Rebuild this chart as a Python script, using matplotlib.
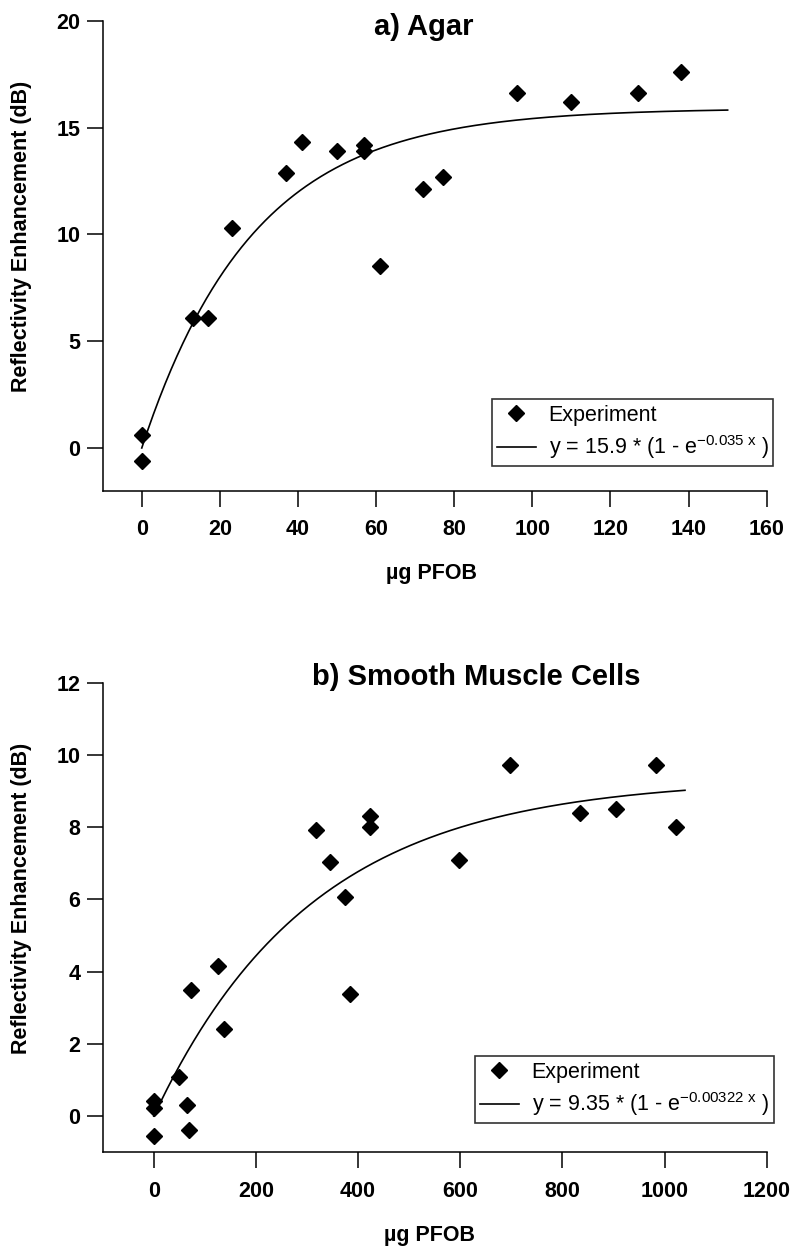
import numpy as np
import matplotlib
matplotlib.use("Agg")
import matplotlib.pyplot as plt

plt.rcParams['font.family'] = ['Liberation Sans', 'DejaVu Sans']
plt.rcParams['mathtext.fontset'] = 'custom'
plt.rcParams['mathtext.rm'] = 'Liberation Sans'
plt.rcParams['mathtext.it'] = 'Liberation Sans'
plt.rcParams['mathtext.default'] = 'rm'

# ---------------- data: a) Agar ----------------
agar_x = [0, 0, 13, 17, 23, 37, 41, 50, 57, 57, 61, 72, 77, 96, 110, 127, 138]
agar_y = [0.6, -0.6, 6.1, 6.1, 10.3, 12.85, 14.3, 13.9, 14.2, 13.9, 8.5, 12.1, 12.7, 16.6, 16.2, 16.6, 17.6]
agar_A = 15.9
agar_k = 0.035
agar_fit_range = (0, 150)
agar_xticks = [0, 20, 40, 60, 80, 100, 120, 140, 160]
agar_yticks = [0, 5, 10, 15, 20]

# ---------------- data: b) Smooth muscle cells ----------------
smc_x = [0, 0, 0, 50, 65, 68, 73, 125, 137, 318, 345, 375, 385, 423, 423, 598, 698, 835, 905, 983, 1022]
smc_y = [0.42, 0.22, -0.55, 1.08, 0.3, -0.38, 3.5, 4.15, 2.4, 7.92, 7.03, 6.08, 3.37, 8.3, 8.0, 7.1, 9.72, 8.38, 8.5, 9.73, 8.0]
smc_A = 9.35
smc_k = 0.00322
smc_fit_range = (0, 1040)
smc_xticks = [0, 200, 400, 600, 800, 1000, 1200]
smc_yticks = [0, 2, 4, 6, 8, 10, 12]

W, H = 800, 1257
fig = plt.figure(figsize=(W / 100, H / 100), dpi=100)


def fx(px):
    return px / W


def fy(py):
    return 1 - py / H


def setup(ax, xlim, ylim, xticks, yticks):
    ax.set_xlim(*xlim)
    ax.set_ylim(*ylim)
    ax.set_xticks(xticks)
    ax.set_yticks(yticks)
    for s in ('top', 'right'):
        ax.spines[s].set_visible(False)
    for s in ('left', 'bottom'):
        ax.spines[s].set_linewidth(1.1)
    ax.tick_params(direction='out', length=11.5, width=1.1, labelsize=15.5)
    ax.tick_params(axis='x', pad=9)
    ax.tick_params(axis='y', pad=4.5)
    for lab in ax.get_xticklabels() + ax.get_yticklabels():
        lab.set_fontweight('bold')


def panel(ax, xs, ys, A, k, rng, label):
    ax.plot(xs, ys, linestyle='none', marker='D', markersize=8.5,
            color='black', label='Experiment', clip_on=False, zorder=3)
    xf = np.linspace(rng[0], rng[1], 400)
    ax.plot(xf, A * (1 - np.exp(-k * xf)), color='black', lw=1.2, label=label)


def add_legend(ax, x0, y0, x1, y1):
    leg = fig.legend(*ax.get_legend_handles_labels(),
                     loc='upper left',
                     bbox_to_anchor=(fx(x0), fy(y1), fx(x1) - fx(x0), fy(y0) - fy(y1)),
                     mode='expand', borderaxespad=0, fontsize=15.5, frameon=True,
                     fancybox=False, edgecolor='black', numpoints=1,
                     handlelength=1.8, handletextpad=0.6, borderpad=0.25,
                     labelspacing=0.35)
    leg.get_frame().set_linewidth(1.2)
    return leg


# ---------- top panel ----------
ax1 = fig.add_axes([fx(102.7), fy(490.7), fx(766.7) - fx(102.7), fy(20.7) - fy(490.7)])
panel(ax1, agar_x, agar_y, agar_A, agar_k, agar_fit_range,
      r'y = 15.9 * (1 - e$^{-0.035\ x}$ )')
setup(ax1, (-10, 160), (-2, 20), agar_xticks, agar_yticks)
add_legend(ax1, 491.7, 399.3, 772.7, 467.7)

fig.text(fx(424), fy(35), 'a) Agar', ha='center', va='baseline',
         fontsize=21, fontweight='bold')
fig.text(fx(21.5), fy(236), 'Reflectivity Enhancement (dB)', rotation=90,
         ha='center', va='center', fontsize=15.5, fontweight='bold')
fig.text(fx(432), fy(574), 'µg PFOB', ha='center', va='center',
         fontsize=15.5, fontweight='bold')

# ---------- bottom panel ----------
ax2 = fig.add_axes([fx(102.7), fy(1152.3), fx(766.7) - fx(102.7), fy(682.7) - fy(1152.3)])
panel(ax2, smc_x, smc_y, smc_A, smc_k, smc_fit_range,
      r'y = 9.35 * (1 - e$^{-0.00322\ x}$ )')
setup(ax2, (-100, 1200), (-1, 12), smc_xticks, smc_yticks)
add_legend(ax2, 474.6, 1056.3, 774, 1126.7)

fig.text(fx(476), fy(685), 'b) Smooth Muscle Cells', ha='center', va='baseline',
         fontsize=21, fontweight='bold')
fig.text(fx(21.5), fy(898), 'Reflectivity Enhancement (dB)', rotation=90,
         ha='center', va='center', fontsize=15.5, fontweight='bold')
fig.text(fx(430), fy(1235), 'µg PFOB', ha='center', va='center',
         fontsize=15.5, fontweight='bold')

fig.savefig('out.png', dpi=100)
